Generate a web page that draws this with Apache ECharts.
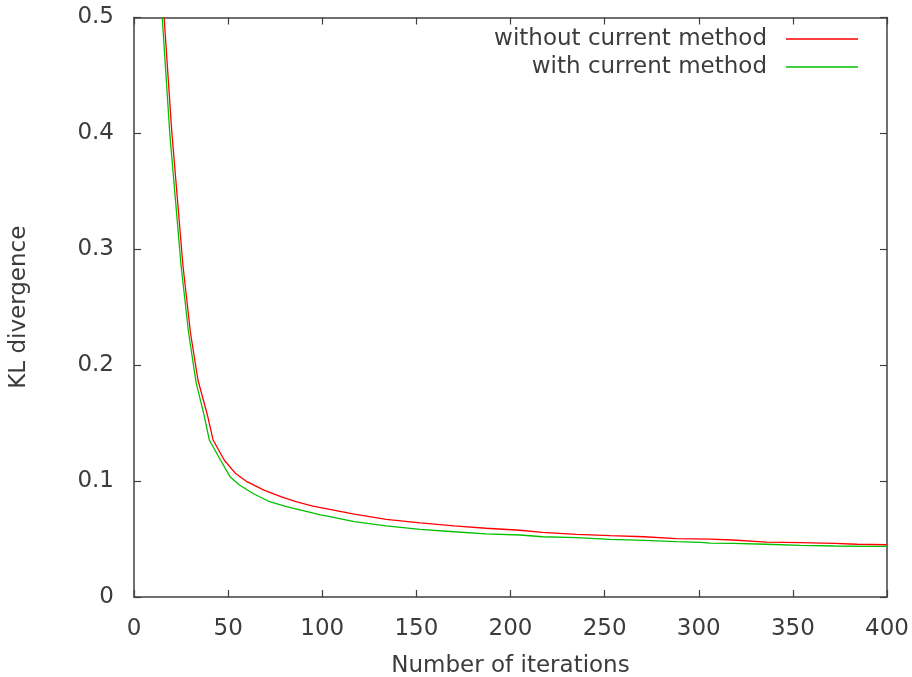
<!DOCTYPE html>
<html>
<head>
<meta charset="utf-8">
<title>KL divergence vs iterations</title>
<script src="https://cdn.jsdelivr.net/npm/echarts@6/dist/echarts.min.js"></script>
<style>
  html, body { margin: 0; padding: 0; background: #ffffff; }
  #chart { width: 912px; height: 677px; }
</style>
</head>
<body>
<div id="chart"></div>
<script>
// Iteration numbers and KL divergence readings for each run
const seriesNames = ['without current method', 'with current method'];

const withoutIter = [16, 20, 26, 30, 34, 39, 42, 48, 54, 60, 69, 78, 86, 95, 104, 117, 134, 152, 170, 187, 205, 217, 235, 253, 271, 288, 306, 318, 336, 354, 372, 384, 400];
const withoutKL   = [0.500, 0.403, 0.286, 0.228, 0.187, 0.157, 0.1355, 0.118, 0.1065, 0.0995, 0.0922, 0.0866, 0.0822, 0.0785, 0.0757, 0.0715, 0.0670, 0.0640, 0.0614, 0.0593, 0.0576, 0.0558, 0.0541, 0.0529, 0.0520, 0.0504, 0.0500, 0.0492, 0.0474, 0.0469, 0.0463, 0.0455, 0.0451];

const withIter = [15, 19, 25, 29, 33, 37, 40, 46, 51, 56, 63, 72, 81, 92, 99, 104, 117, 134, 152, 170, 187, 205, 217, 235, 253, 271, 288, 301, 306, 318, 336, 354, 372, 389, 400];
const withKL   = [0.500, 0.400, 0.286, 0.228, 0.185, 0.1585, 0.1355, 0.118, 0.1038, 0.0966, 0.0895, 0.0822, 0.0779, 0.0736, 0.0708, 0.0693, 0.0650, 0.0613, 0.0584, 0.0563, 0.0544, 0.0535, 0.0520, 0.0512, 0.0498, 0.0489, 0.0477, 0.0472, 0.0465, 0.0463, 0.0455, 0.0446, 0.0440, 0.0437, 0.0437];

// Axis ranges and ticks
const xMin = 0, xMax = 400, xStep = 50;
const yMin = 0, yMax = 0.5, yStep = 0.1;

const pairs = (xs, ys) => xs.map((x, i) => [x, ys[i]]);

const FONT = 'DejaVu Sans';
const TEXT = '#3c3c3c';
const AXIS = '#404040';

const baseAxisLine = { show: true, onZero: false, lineStyle: { color: AXIS, width: 1.5 } };
const baseTick = { show: true, inside: true, length: 7, lineStyle: { color: AXIS, width: 1.2 } };

const chart = echarts.init(document.getElementById('chart'), null, { renderer: 'canvas' });

chart.setOption({
  animation: false,
  backgroundColor: '#ffffff',
  textStyle: { fontFamily: FONT },
  grid: { left: 134, right: 25, top: 17.5, bottom: 80, containLabel: false, outerBoundsMode: 'none' },
  legend: {
    orient: 'vertical',
    align: 'right',
    right: 49,
    top: 22,
    icon: 'rect',
    itemWidth: 72,
    itemHeight: 1.5,
    itemGap: 4,
    selectedMode: false,
    data: seriesNames,
    textStyle: { fontFamily: FONT, fontSize: 23, color: TEXT, lineHeight: 24, padding: [0, 14, 0, 0] }
  },
  xAxis: [
    {
      type: 'value', min: xMin, max: xMax, interval: xStep,
      name: 'Number of iterations', nameLocation: 'middle', nameGap: 58,
      nameTextStyle: { fontFamily: FONT, fontSize: 23, color: TEXT },
      axisLine: baseAxisLine, axisTick: baseTick,
      axisLabel: { fontFamily: FONT, fontSize: 23, color: TEXT, margin: 21 },
      splitLine: { show: false }
    },
    {
      type: 'value', position: 'top', min: xMin, max: xMax, interval: xStep,
      axisLine: baseAxisLine, axisTick: baseTick,
      axisLabel: { show: false }, splitLine: { show: false }
    }
  ],
  yAxis: [
    {
      type: 'value', min: yMin, max: yMax, interval: yStep,
      name: 'KL divergence', nameLocation: 'middle', nameGap: 103, nameRotate: 90,
      nameTextStyle: { fontFamily: FONT, fontSize: 23, color: TEXT },
      axisLine: baseAxisLine, axisTick: baseTick,
      axisLabel: { fontFamily: FONT, fontSize: 23, color: TEXT, margin: 20 },
      splitLine: { show: false }
    },
    {
      type: 'value', position: 'right', min: yMin, max: yMax, interval: yStep,
      axisLine: baseAxisLine, axisTick: baseTick,
      axisLabel: { show: false }, splitLine: { show: false }
    }
  ],
  series: [
    {
      name: seriesNames[0], type: 'line', showSymbol: false, symbol: 'none',
      clip: true, xAxisIndex: 0, yAxisIndex: 0,
      lineStyle: { color: '#ff0000', width: 1.3 }, itemStyle: { color: '#ff0000' },
      data: pairs(withoutIter, withoutKL), z: 3
    },
    {
      name: seriesNames[1], type: 'line', showSymbol: false, symbol: 'none',
      clip: true, xAxisIndex: 0, yAxisIndex: 0,
      lineStyle: { color: '#00c000', width: 1.3 }, itemStyle: { color: '#00c000' },
      data: pairs(withIter, withKL), z: 4
    }
  ]
});
</script>
</body>
</html>
